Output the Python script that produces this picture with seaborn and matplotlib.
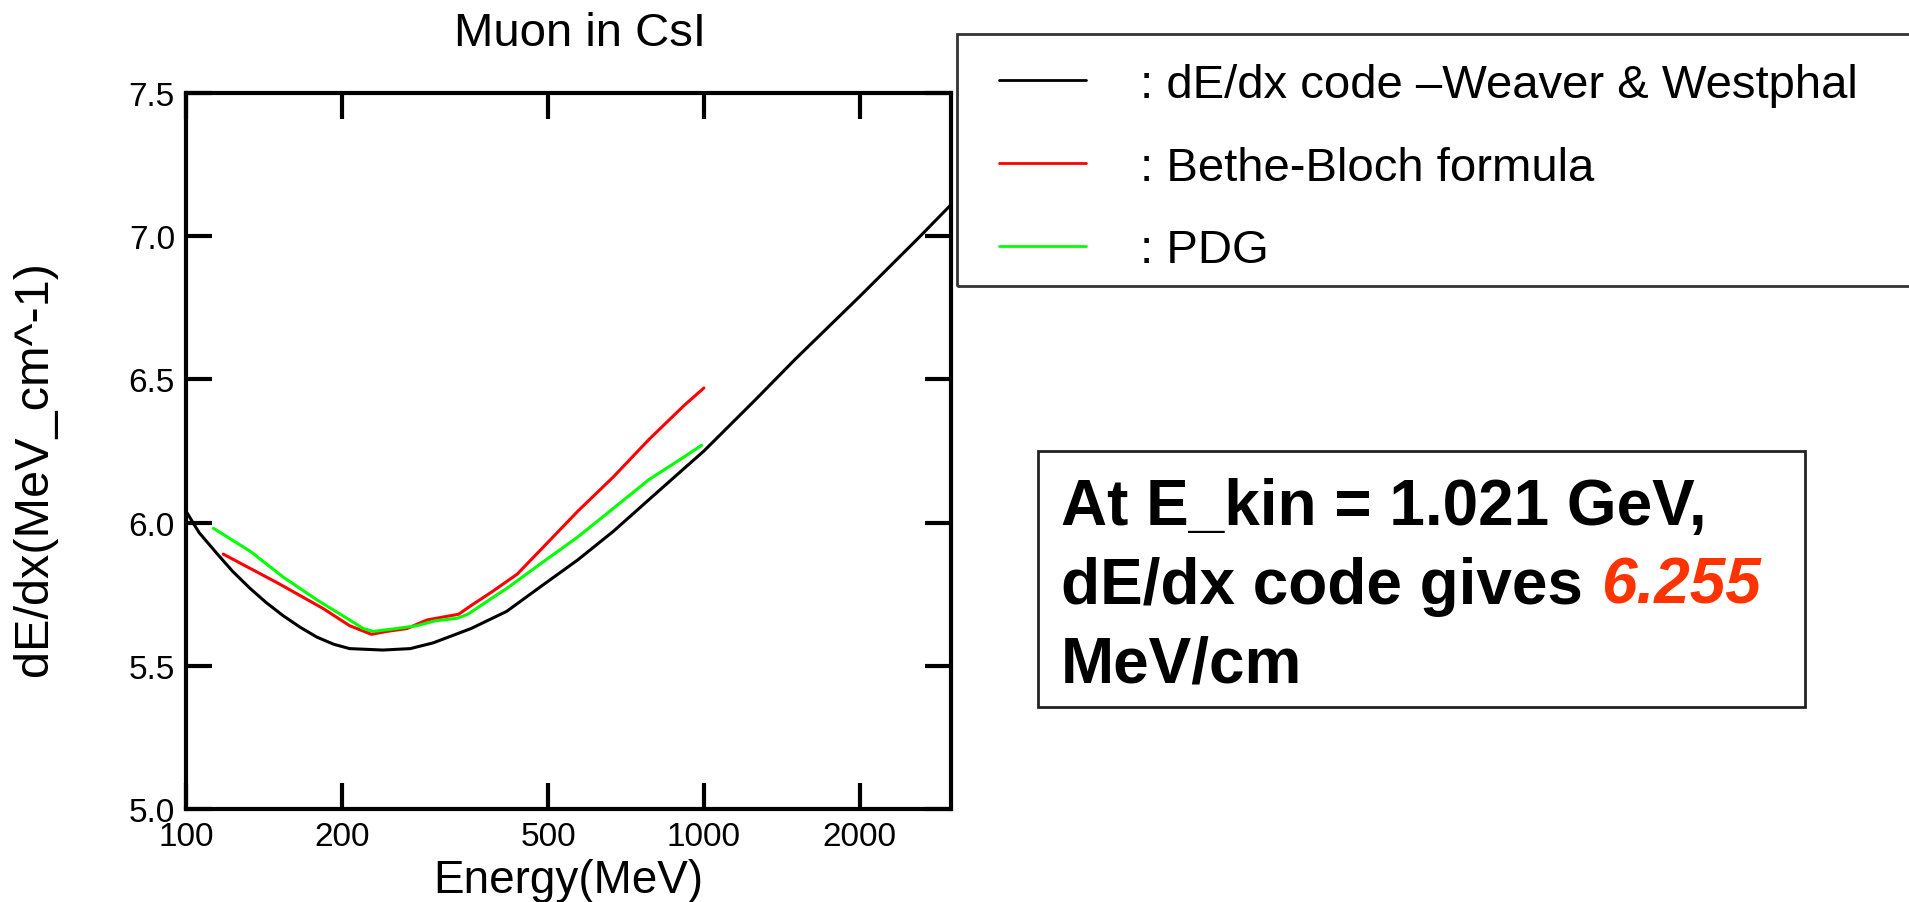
import numpy as np
import pandas as pd
import matplotlib
matplotlib.use("Agg")
import matplotlib.pyplot as plt
import seaborn as sns
from matplotlib.ticker import NullLocator
from matplotlib.patches import Rectangle

# ---------------- data ----------------
energy_ww = [100, 106, 115, 123, 133, 143, 154, 166, 179, 193, 207, 240, 271, 300,
             355, 416, 487, 571, 669, 783, 917, 1000, 1259, 1500, 2000, 2600, 3000]
dedx_ww = [6.04, 5.965, 5.89, 5.83, 5.77, 5.72, 5.675, 5.635, 5.60, 5.575, 5.56, 5.555, 5.56, 5.58,
           5.63, 5.69, 5.78, 5.87, 5.97, 6.08, 6.19, 6.25, 6.43, 6.57, 6.79, 6.995, 7.11]

energy_bb = [118, 150, 184, 207, 228, 244, 267, 292, 313, 336, 355, 391, 436, 487,
             571, 669, 783, 917, 1000]
dedx_bb = [5.89, 5.79, 5.70, 5.64, 5.61, 5.62, 5.63, 5.66, 5.67, 5.68, 5.71, 5.76, 5.82, 5.91,
           6.04, 6.16, 6.29, 6.41, 6.47]

energy_pdg = [113, 133, 154, 179, 207, 220, 230, 255, 279, 303, 334, 350, 385, 416,
              487, 571, 669, 783, 917, 990]
dedx_pdg = [5.98, 5.90, 5.81, 5.73, 5.66, 5.63, 5.62, 5.63, 5.64, 5.657, 5.666, 5.68, 5.73, 5.77,
            5.86, 5.95, 6.05, 6.15, 6.23, 6.27]

series_labels = [": dE/dx code \u2013Weaver & Westphal", ": Bethe-Bloch formula", ": PDG"]
series_colors = ["#000000", "#ff0000", "#00ff00"]

x_ticks = [100, 200, 500, 1000, 2000]
x_tick_labels = ["100", "200", "500", "1000", "2000"]
y_ticks = [5.0, 5.5, 6.0, 6.5, 7.0, 7.5]
y_tick_labels = ["5.0", "5.5", "6.0", "6.5", "7.0", "7.5"]

title_text = "Muon in CsI"
x_label = "Energy(MeV)"
y_label = "dE/dx(MeV_cm^-1)"
note_line1 = "At E_kin = 1.021 GeV,"
note_line2 = "dE/dx code gives "
note_value = "6.255"
note_line3 = "MeV/cm"

# ---------------- figure ----------------
sns.set_theme(style="white")
plt.rcParams["font.family"] = ["Liberation Sans", "DejaVu Sans"]
plt.rcParams["text.color"] = "black"
plt.rcParams["axes.labelcolor"] = "black"
plt.rcParams["xtick.color"] = "black"
plt.rcParams["ytick.color"] = "black"

W, H = 1909, 903
fig = plt.figure(figsize=(W / 100, H / 100), dpi=100)
fig.patch.set_facecolor("white")


def fx(px):
    return px / W


def fy(py):
    return 1 - py / H


ax = fig.add_axes([fx(186), fy(810), (951 - 186) / W, (810 - 94) / H])

df = pd.concat([
    pd.DataFrame({"E": energy_ww, "dEdx": dedx_ww, "source": series_labels[0]}),
    pd.DataFrame({"E": energy_bb, "dEdx": dedx_bb, "source": series_labels[1]}),
    pd.DataFrame({"E": energy_pdg, "dEdx": dedx_pdg, "source": series_labels[2]}),
], ignore_index=True)

sns.lineplot(data=df, x="E", y="dEdx", hue="source", hue_order=series_labels,
             palette=dict(zip(series_labels, series_colors)), estimator=None,
             sort=False, linewidth=2.2, legend=False, ax=ax)

ax.set_xscale("log")
ax.set_xlim(100, 3000)
ax.set_ylim(5.0, 7.5)
ax.set_xticks(x_ticks)
ax.set_xticklabels(x_tick_labels)
ax.set_yticks(y_ticks)
ax.set_yticklabels(y_tick_labels)
ax.xaxis.set_minor_locator(NullLocator())
ax.yaxis.set_minor_locator(NullLocator())
ax.tick_params(which="major", direction="in", length=19, width=3,
               top=True, right=True, bottom=True, left=True,
               labelsize=24, color="black", labelcolor="black")
ax.tick_params(axis="x", pad=9)
ax.tick_params(axis="y", pad=8)
for sp in ax.spines.values():
    sp.set_linewidth(3)
    sp.set_color("black")
ax.set_facecolor("white")

ax.set_xlabel(x_label, fontsize=33, color="black")
ax.xaxis.label.set_va("baseline")
ax.xaxis.set_label_coords(0.5, (810 - 893) / 716)
ax.set_ylabel(y_label, fontsize=35, color="black")
ax.yaxis.set_label_coords((57 - 186) / 765, (810 - 469) / 716)

fig.text(fx(580), fy(46), title_text, fontsize=34, ha="center", va="baseline", color="black")

# ---------------- legend ----------------
fig.patches.append(Rectangle((fx(957), fy(287)), (1915 - 957) / W, (287 - 35) / H,
                             transform=fig.transFigure, fill=False, edgecolor="#333333",
                             linewidth=2))
handles = ax.get_lines()[:3]
leg = fig.legend(handles, series_labels, loc="upper left",
                 bbox_to_anchor=(fx(999), fy(64)), frameon=False, fontsize=34,
                 handlelength=1.84, handletextpad=1.14, labelspacing=0.82,
                 borderpad=0, borderaxespad=0, labelcolor="black")
for ln in leg.get_lines():
    ln.set_linewidth(2)

# ---------------- note box ----------------
fig.patches.append(Rectangle((fx(1038), fy(708)), (1805 - 1038) / W, (708 - 452) / H,
                             transform=fig.transFigure, fill=False, edgecolor="#222222",
                             linewidth=2))
fig.text(fx(1061), fy(525), note_line1, fontsize=46, fontweight="bold", va="baseline",
         color="black")
t2 = fig.text(fx(1061), fy(604), note_line2, fontsize=46, fontweight="bold", va="baseline",
              color="black")
fig.canvas.draw()
bb = t2.get_window_extent(renderer=fig.canvas.get_renderer())
fig.text(bb.x1 / W, fy(604), note_value, fontsize=46, fontweight="bold", fontstyle="italic",
         color="#ff3300", va="baseline")
fig.text(fx(1061), fy(682), note_line3, fontsize=46, fontweight="bold", va="baseline",
         color="black")

fig.savefig("out.png", dpi=100, facecolor="white")
